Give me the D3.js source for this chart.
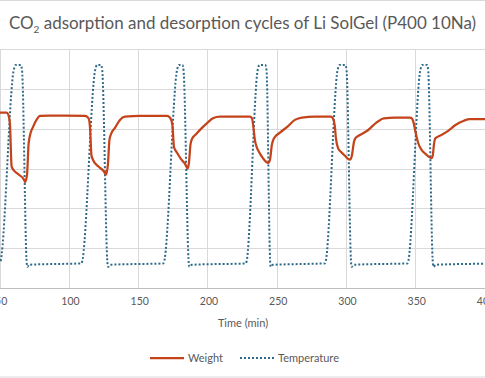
<!DOCTYPE html>
<html>
<head>
<meta charset="utf-8">
<script src="https://cdn.jsdelivr.net/npm/d3@7"></script>
<style>
  body { margin: 0; background: #fff; }
  text { font-family: Lato, "Open Sans", sans-serif; fill: #595959; }
</style>
</head>
<body>
<script>
// chart size is fixed to the reference window
var width = 485,
	height = 378;

// x ticks (time in minutes), the axis is cut at both ends
var timeTicks = [50, 100, 150, 200, 250, 300, 350, 400];

// weight (%), [time, weight]
var weight = [
	[45, 107.0], [49.5, 107.0], [54.3, 107.0], [55.6, 106.7], [56.7, 105.5], [57.8, 100.4],
	[58.2, 100.1], [62.5, 99.3], [66.8, 98.6], [67.6, 98.3], [69.0, 99.2], [70.1, 103.0],
	[71.2, 104.2], [73.3, 105.2], [76.2, 106.2], [78.4, 106.6], [85.6, 106.65], [96.4, 106.65],
	[110.8, 106.6],
	[112.3, 106.5], [113.7, 106.2], [114.5, 105.1], [115.5, 101.7], [116.6, 101.1], [120.2, 100.3],
	[124.6, 99.6], [126.0, 99.2], [127.4, 100.5], [128.5, 103.6], [129.6, 104.3], [132.5, 105.1],
	[136.1, 106.1], [139.7, 106.5], [150.5, 106.6], [170.0, 106.6],
	[171.5, 106.5], [173.3, 106.0], [174.1, 105.2], [175.1, 102.7], [177.2, 102.0], [180.1, 101.2],
	[183.0, 100.6], [185.0, 100.0], [185.9, 100.7], [187.0, 103.0], [188.1, 103.7], [191.0, 104.3],
	[195.3, 105.1], [199.6, 105.8], [203.2, 106.3], [208.3, 106.5], [229.9, 106.5],
	[231.4, 106.3], [232.5, 105.1], [233.5, 103.6], [234.8, 102.7], [236.4, 102.1], [239.3, 101.3],
	[243.1, 100.7], [244.4, 101.1], [245.8, 103.0], [247.3, 103.8], [251.6, 104.5], [257.3, 105.3],
	[262.4, 106.1], [267.5, 106.4], [276.8, 106.5], [288.4, 106.5],
	[289.8, 106.3], [291.3, 105.2], [292.0, 103.8], [293.7, 102.5], [295.6, 102.1], [298.5, 101.6],
	[302.1, 101.1], [303.5, 101.6], [305.0, 103.3], [306.1, 103.8], [309.3, 104.2], [315.1, 104.8],
	[320.8, 105.7], [326.6, 106.3], [334.6, 106.4], [345.4, 106.4],
	[346.8, 106.3], [348.3, 105.6], [349.4, 104.6], [351.4, 103.2], [354.0, 102.3], [356.9, 101.8],
	[361.1, 101.3], [362.0, 101.7], [362.7, 102.9], [363.8, 103.8], [367.0, 104.1], [372.8, 104.7],
	[378.6, 105.5], [384.4, 106.0], [388.7, 106.2], [399.5, 106.2], [406.7, 106.2]
];

// temperature (°C), [time, temperature]
var temperature = [
	[45, 70], [49.5, 75], [59.5, 640], [60.8, 653], [64.5, 653], [65.4, 638], [68.8, 72], [69.2, 62],
	[70.5, 68], [85, 70], [100, 71], [108.2, 72],
	[108.7, 76], [118.3, 640], [119.5, 653], [122.5, 653], [123.3, 638], [127.1, 72], [127.5, 62],
	[129, 68], [145, 70], [160, 71], [167.4, 72],
	[167.9, 76], [177.4, 640], [178.6, 653], [181.2, 653], [182, 638], [185.8, 72], [186.2, 62],
	[188, 68], [205, 70], [220, 71], [226.9, 72],
	[227.4, 76], [235.6, 640], [236.8, 653], [241, 653], [241.9, 638], [244.6, 72], [245, 62],
	[246.5, 68], [265, 70], [275, 71], [284, 72],
	[284.5, 76], [293.3, 640], [294.5, 653], [298.8, 653], [299.7, 638], [303.0, 72], [303.4, 62],
	[305, 68], [320, 70], [335, 71], [343.6, 72],
	[344.1, 76], [353, 640], [354.2, 653], [357.8, 653], [358.6, 638], [362, 72], [362.4, 62],
	[364, 68], [380, 70], [395, 71], [405, 72]
];

var legendItems = ['Weight', 'Temperature'];

// plot area, the y axes themselves fall outside the picture
var plot = { top: 49, bottom: 288 };

var x = d3.scaleLinear()
	.domain([50, 400])
	.range([0.7, 485.5]);

// weight on the left axis, 6 grid steps
var y = d3.scaleLinear()
	.domain([85, 115])
	.range([plot.bottom, plot.top]);

// temperature on the secondary axis
var y2 = d3.scaleLinear()
	.domain([0, 700])
	.range([plot.bottom, plot.top]);

var svg = d3.select('body')
	.append('svg')
	.attr('width', width)
	.attr('height', height);

// chart border
svg.append('rect')
	.attr('x', -5).attr('y', 0.5)
	.attr('width', width + 10).attr('height', height - 1.5)
	.attr('fill', '#fff')
	.attr('stroke', '#d9d9d9');

// horizontal grid
svg.append('g')
	.selectAll('line')
	.data(y.ticks(6).filter(function(d) { return d > 85; }))
	.enter().append('line')
	.attr('x1', 0).attr('x2', width)
	.attr('y1', function(d) { return Math.round(y(d)) + 0.5; })
	.attr('y2', function(d) { return Math.round(y(d)) + 0.5; })
	.attr('stroke', '#d9d9d9');

// vertical grid
svg.append('g')
	.selectAll('line')
	.data(timeTicks)
	.enter().append('line')
	.attr('x1', function(d) { return Math.round(x(d)) - 0.5; })
	.attr('x2', function(d) { return Math.round(x(d)) - 0.5; })
	.attr('y1', plot.top).attr('y2', plot.bottom)
	.attr('stroke', '#d9d9d9');

// x axis
var xAxis = svg.append('g')
	.attr('transform', 'translate(0,' + (plot.bottom + 0.5) + ')')
	.call(d3.axisBottom(x).tickValues(timeTicks).tickSize(0).tickPadding(9));
xAxis.select('.domain').attr('stroke', '#bfbfbf').attr('d', 'M0,0H' + width);
xAxis.selectAll('text')
	.style('font-family', 'Lato, sans-serif')
	.style('font-size', '10.5px')
	.attr('fill', '#595959');

svg.append('text')
	.attr('x', 243).attr('y', 327)
	.attr('text-anchor', 'middle')
	.style('font-size', '11px')
	.text('Time (min)');

var line = d3.line()
	.x(function(d) { return x(d[0]); })
	.curve(d3.curveMonotoneX);

svg.append('path')
	.datum(temperature)
	.attr('fill', 'none')
	.attr('stroke', '#2d6a87')
	.attr('stroke-width', 2)
	.attr('stroke-dasharray', '2,2')
	.attr('d', line.y(function(d) { return y2(d[1]); }));

svg.append('path')
	.datum(weight)
	.attr('fill', 'none')
	.attr('stroke', '#c4431b')
	.attr('stroke-width', 2.25)
	.attr('stroke-linejoin', 'round')
	.attr('d', line.y(function(d) { return y(d[1]); }));

// title with subscript, fitted to the reference width
var title = svg.append('text')
	.attr('x', width / 2).attr('y', 29)
	.attr('text-anchor', 'middle')
	.style('font-size', '16px');
title.append('tspan').text('CO');
title.append('tspan').attr('dy', 4).style('font-size', '10px').text('2');
title.append('tspan').attr('dy', -4).text(' adsorption and desorption cycles of Li SolGel (P400 10Na)');
var tw = title.node().getComputedTextLength();
title.style('font-size', (16 * 468 / tw) + 'px');

// legend
var legend = svg.append('g');
legend.append('line')
	.attr('x1', 150).attr('x2', 184).attr('y1', 358).attr('y2', 358)
	.attr('stroke', '#c4431b').attr('stroke-width', 2.25);
legend.append('text')
	.attr('x', 188).attr('y', 362)
	.style('font-size', '11px')
	.text(legendItems[0]);
legend.append('line')
	.attr('x1', 240).attr('x2', 274).attr('y1', 358).attr('y2', 358)
	.attr('stroke', '#2d6a87').attr('stroke-width', 2).attr('stroke-dasharray', '2,2');
legend.append('text')
	.attr('x', 278).attr('y', 362)
	.style('font-size', '11px')
	.text(legendItems[1]);
</script>
</body>
</html>
